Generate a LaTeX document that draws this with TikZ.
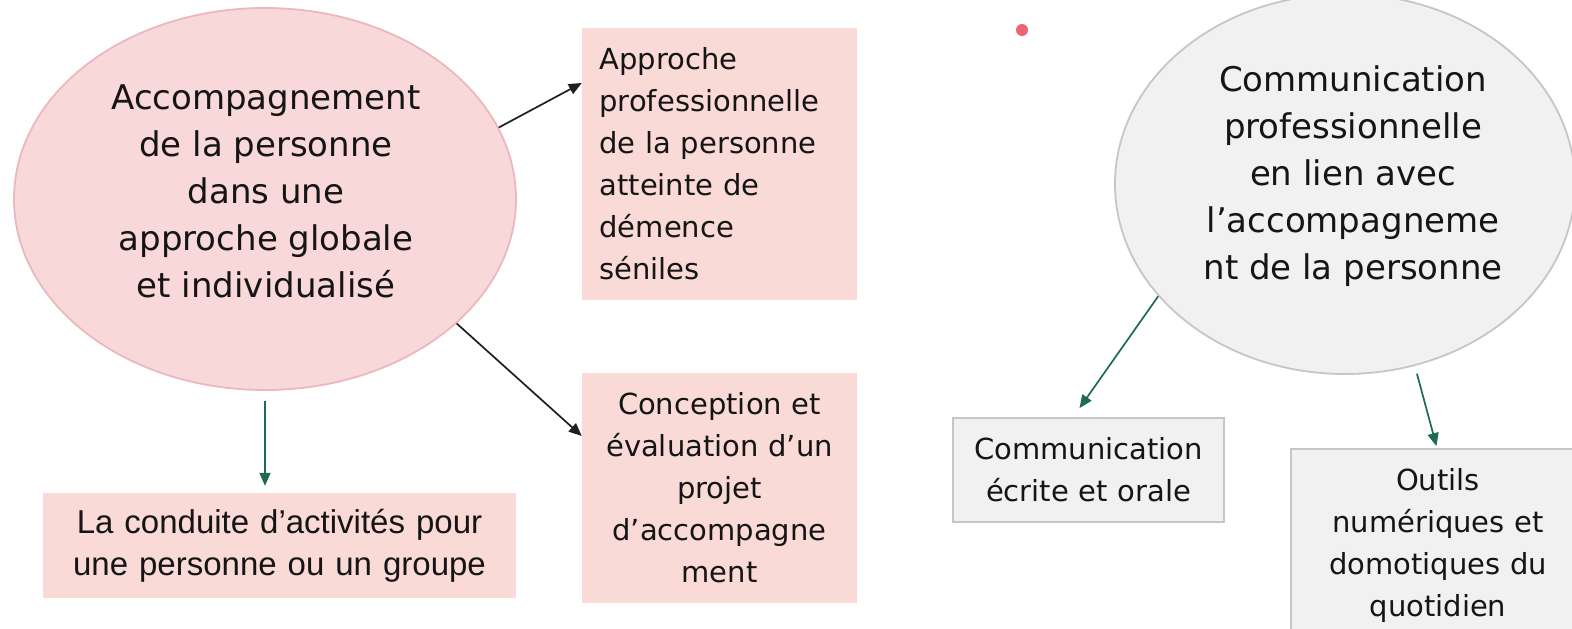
\documentclass[tikz,border=0pt]{standalone}
\usepackage{fontspec}
\setmainfont{DejaVu Sans}
\newfontfamily\arialf{Liberation Sans}
\usetikzlibrary{shapes.geometric,arrows.meta,calc}
\definecolor{pinkfill}{HTML}{F9DAD6}
\definecolor{pinkell}{HTML}{F8D8D8}
\definecolor{pinkline}{HTML}{EBB8C0}
\definecolor{greyfill}{HTML}{F1F1F1}
\definecolor{greyline}{HTML}{C6C6C6}
\definecolor{arrgreen}{HTML}{1D6B50}
\definecolor{dotred}{HTML}{EE6474}
\definecolor{txt}{HTML}{151515}
\begin{document}
\begin{tikzpicture}[x=1pt,y=-1pt,
  bigfont/.style={font=\fontsize{34}{47}\selectfont},
  boxfont/.style={font=\fontsize{29}{42}\selectfont},
  pinkbox/.style={fill=pinkfill, inner sep=0pt, text=txt},
  greybox/.style={fill=greyfill, draw=greyline, line width=1.8pt, inner sep=0pt, text=txt},
  blackarrow/.style={-{Triangle[length=13pt,width=11pt]}, line width=1.7pt, draw=black!88},
  greenarrow/.style={-{Triangle[length=13pt,width=11pt]}, line width=1.7pt, draw=arrgreen}]
\useasboundingbox (0,0) rectangle (1572,629);
\fill[white] (0,0) rectangle (1572,629);
% left ellipse
\node[ellipse, fill=pinkell, draw=pinkline, line width=1.8pt, minimum width=502pt, minimum height=382pt, inner sep=0pt] (e1) at (265,199) {};
\node[bigfont, align=center, text=txt] (e1t) at (266,191) {Accompagnement\\de la personne\\dans une\\approche globale\\et individualisé};
% box A
\node[pinkbox, minimum width=275pt, minimum height=272pt, text width=240pt, align=left, boxfont] (a) at (719.5,164) {Approche\\professionnelle\\de la personne\\atteinte de\\démence\\séniles};
% box B
\node[pinkbox, minimum width=275pt, minimum height=230pt, text width=260pt, align=center, boxfont] (b) at (719.5,488) {Conception et\\évaluation d’un\\projet\\d’accompagne\\ment};
% box C
\node[pinkbox, minimum width=473pt, minimum height=105pt, text width=460pt, align=center, font=\arialf\fontsize{33}{42}\selectfont] (c) at (279.5,545.5) {La conduite d’activités pour\\une personne ou un groupe};
% dot
\node[circle, fill=dotred, minimum size=12pt, inner sep=0pt] (dot) at (1022,30) {};
% right ellipse
\node[ellipse, fill=greyfill, draw=greyline, line width=1.8pt, minimum width=460pt, minimum height=380pt, inner sep=0pt] (e2) at (1345,184) {};
\node[bigfont, align=center, text=txt] (e2t) at (1353,176) {Communication\\professionnelle\\en lien avec\\l’accompagneme\\nt de la personne};
% box D
\node[greybox, minimum width=271pt, minimum height=104pt, text width=260pt, align=center, boxfont] (d) at (1088.5,470) {Communication\\écrite et orale};
\path (d.center) ++(0,0) coordinate (dc);
% box E
\node[greybox, minimum width=294pt, minimum height=220pt, text width=280pt, align=center, boxfont, anchor=north] (e) at (1438,448) {\\[-46pt]Outils\\numériques et\\domotiques du\\quotidien\\[12pt]};
% arrows
\draw[blackarrow] (e1.17) -- ([yshift=81pt]a.west);
\draw[blackarrow] (e1.-33) -- ([yshift=52pt]b.west);
\draw[greenarrow, shorten <=10pt, shorten >=7pt] (e1.south) -- (c.north -| e1.south);
\draw[greenarrow] (e2.211) -- ([xshift=-9pt,yshift=9pt]d.north);
\draw[greenarrow, shorten <=8pt, shorten >=2pt] (e2.-69) -- ([xshift=-1pt]e.north);
\end{tikzpicture}
\end{document}
